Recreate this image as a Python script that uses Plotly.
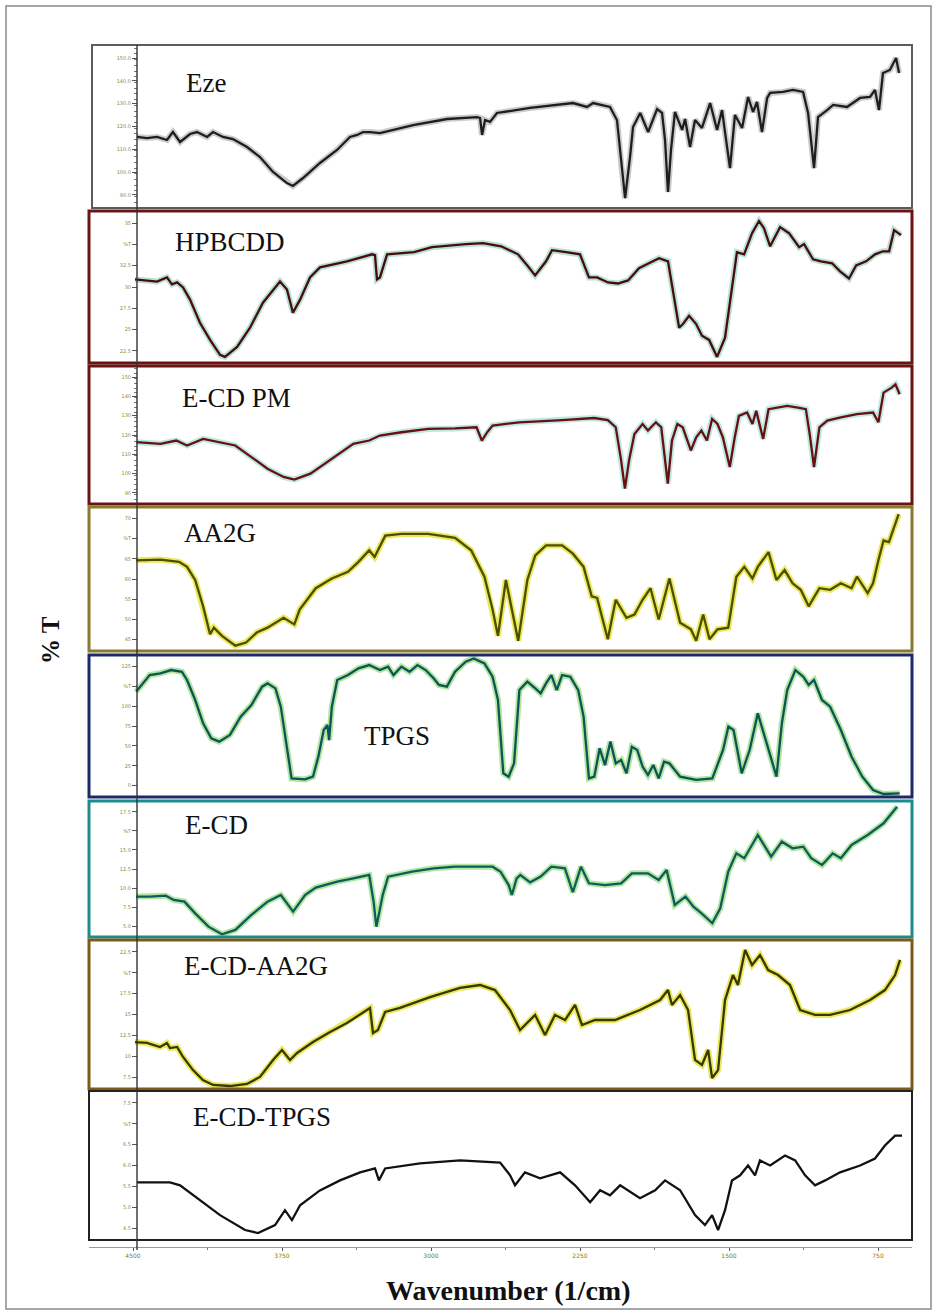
import plotly.graph_objects as go

W, H = 937, 1315

# ---------------- data (wavenumber in 1/cm, transmittance on a 0-100 panel scale) ----------------
eze_wn = [4480,4430,4379,4329,4299,4263,4213,4178,4127,4097,4047,3997,3926,3861,3795,3725,3695,3644,3559,3473,
          3408,3372,3342,3307,3257,3090,2919,2768,2753,2743,2728,2703,2668,2501,2285,2215,2184,2099,2064,2038,
          2023,1998,1983,1947,1907,1862,1837,1822,1807,1792,1772,1736,1721,1696,1671,1636,1595,1560,1535,1520,
          1495,1470,1434,1404,1379,1359,1334,1308,1293,1228,1178,1127,1102,1072,1052,1006,976,906,840,790,
          765,745,725,690,659,644]
eze_t = [43.6,42.9,43.6,41.7,46.6,40.5,45.4,46.6,43.6,46.6,43.6,42.3,37.4,31.3,22.1,15.3,13.5,18.4,27.6,35.6,
         43.6,44.8,46.6,46.6,46.0,50.9,54.6,55.8,55.2,44.8,54.0,52.8,58.3,61.4,64.4,62.0,64.4,62.0,54.0,21.5,
         6.1,31.3,49.7,58.3,46.6,60.7,58.3,41.7,9.8,35.6,58.9,47.9,54.6,37.4,54.0,49.1,64.4,47.9,60.1,46.6,
         24.5,57.1,49.1,68.1,58.9,65.0,46.6,67.5,70.6,71.2,72.4,71.2,58.3,24.5,55.8,60.1,63.2,62.0,67.5,68.1,
         72.4,60.1,82.8,84.7,92.0,82.8]

hp_wn = [4490,4430,4379,4329,4304,4278,4248,4213,4163,4112,4062,4037,3976,3911,3846,3760,3725,3695,3659,3609,
         3559,3423,3297,3282,3272,3257,3221,3085,2995,2824,2738,2647,2562,2512,2476,2421,2391,2320,2250,2205,
         2164,2109,2059,2008,1953,1903,1852,1807,1782,1751,1731,1701,1666,1636,1600,1560,1520,1485,1460,1424,
         1384,1349,1324,1293,1243,1198,1147,1122,1077,1037,981,941,896,860,810,765,725,694,669,634]
hp_t = [55.0,54.3,53.6,56.3,51.7,53.0,49.7,41.7,26.5,15.2,5.3,4.0,10.6,23.2,39.7,53.6,48.3,33.1,41.7,56.3,
        62.9,66.9,71.5,70.9,55.0,56.3,71.5,72.9,76.2,78.2,78.8,76.8,71.5,63.6,57.6,66.9,74.2,72.9,71.5,56.3,
        56.3,53.0,52.3,54.3,62.3,65.6,68.9,66.9,48.3,23.2,25.8,31.1,25.8,17.9,15.2,4.0,16.6,51.0,72.9,71.5,
        85.4,93.4,88.7,76.8,89.4,85.4,76.2,78.2,68.2,66.9,65.6,60.3,55.6,64.2,66.9,71.5,73.5,73.5,87.4,84.1]

pm_wn = [4484,4362,4282,4228,4147,4066,3985,3904,3823,3742,3688,3607,3499,3391,3311,3257,3149,3014,2879,2771,
         2744,2717,2690,2556,2340,2178,2110,2070,2043,2024,2003,1976,1935,1908,1868,1841,1808,1787,1760,1733,
         1692,1665,1639,1611,1585,1558,1531,1496,1471,1450,1409,1382,1363,1328,1301,1261,1207,1153,1113,1094,
         1072,1045,1005,937,856,775,748,722,681,662,641]
pm_t = [44.8,43.6,46.0,42.4,47.2,44.8,42.4,34.0,25.6,19.6,17.7,22.0,32.8,43.6,46.0,49.6,52.0,54.4,54.8,55.6,
        46.0,52.0,56.8,59.2,60.8,62.3,60.8,55.6,31.6,11.2,31.6,50.8,58.0,53.2,59.2,55.6,14.8,46.0,58.0,55.6,
        38.8,48.4,53.2,46.0,61.6,58.0,48.4,26.8,48.4,63.9,66.3,58.0,67.5,47.2,68.7,69.9,71.1,69.9,68.7,50.8,
        26.8,55.6,60.4,62.8,65.1,66.3,59.2,80.7,84.3,86.7,79.5]

aa_wn = [4484,4362,4268,4228,4187,4147,4112,4093,4052,3985,3931,3877,3823,3742,3688,3661,3580,3499,3418,3365,
         3311,3284,3230,3149,3014,2879,2798,2731,2690,2663,2623,2596,2561,2515,2475,2421,2340,2286,2232,2191,
         2164,2110,2070,2016,1976,1935,1895,1854,1800,1746,1692,1665,1630,1598,1558,1504,1463,1423,1382,1355,
         1301,1261,1220,1180,1139,1099,1045,991,937,883,856,802,775,748,722,695,668,646]
aa_t = [63.0,63.5,61.9,58.4,49.3,31.0,11.6,16.2,10.5,3.7,5.9,12.8,16.2,23.1,18.5,28.8,43.6,50.4,55.0,61.9,
        69.9,65.3,80.1,81.3,81.3,78.5,69.9,51.6,28.8,10.5,49.3,31.0,7.1,49.3,66.4,73.3,73.3,67.6,58.4,37.9,
        36.8,8.2,35.6,23.1,25.3,35.6,43.6,21.9,50.4,19.6,15.1,7.1,25.3,8.2,15.1,16.2,51.6,58.4,50.4,58.4,
        68.7,49.3,56.2,47.0,42.5,31.0,43.6,42.5,47.0,43.6,51.6,40.2,47.0,63.0,76.7,75.6,87.0,95.0]

tp_wn = [4484,4457,4416,4362,4308,4254,4228,4187,4147,4106,4066,4012,3958,3904,3850,3823,3783,3756,3729,3702,
         3634,3594,3567,3540,3521,3513,3499,3472,3418,3365,3311,3257,3216,3189,3149,3108,3068,3027,2987,2960,
         2920,2879,2825,2785,2731,2690,2663,2636,2609,2582,2555,2515,2475,2448,2421,2394,2367,2340,2299,2259,
         2232,2205,2178,2151,2124,2097,2070,2043,2016,1989,1962,1935,1908,1881,1854,1827,1800,1746,1665,1584,
         1530,1503,1477,1436,1396,1355,1315,1261,1234,1207,1166,1126,1099,1072,1032,991,937,883,829,775,
         722,641]
tp_t = [74.2,78.9,85.9,87.1,89.4,88.2,82.4,68.3,51.9,41.3,39.0,43.7,56.6,64.8,77.7,80.0,76.5,63.6,37.8,13.1,
        12.4,14.3,28.4,47.2,50.7,40.1,63.6,82.4,85.9,90.6,92.9,89.4,91.8,85.9,91.8,88.2,92.9,89.4,83.6,78.9,
        77.7,88.2,95.3,97.6,94.1,84.7,68.3,16.7,14.3,23.7,75.3,81.2,76.5,73.0,80.0,85.9,75.3,85.9,84.7,75.3,
        56.6,13.1,14.3,34.3,22.5,39.0,23.7,26.1,16.7,35.4,33.1,21.4,15.5,22.5,13.1,24.9,23.7,14.3,12.0,13.1,
        33.1,49.5,47.2,16.7,33.1,58.9,40.1,14.3,51.9,75.3,89.4,84.7,78.9,82.4,68.3,63.6,47.2,28.4,14.3,4.9,
        2.1,2.6]

ecd_wn = [4484,4416,4335,4295,4241,4187,4120,4052,3985,3904,3823,3756,3694,3634,3580,3472,3391,3311,3289,3275,
          3243,3216,3095,2987,2879,2690,2650,2609,2593,2569,2550,2501,2448,2394,2326,2286,2245,2205,2124,2043,
          1989,1908,1854,1814,1773,1719,1679,1638,1584,1544,1504,1463,1423,1355,1288,1234,1180,1126,1086,1032,
          978,937,883,802,722,654]
ecd_t = [29.7,29.7,30.4,27.2,26.0,17.4,7.6,2.0,5.2,16.2,26.0,30.9,18.7,30.9,36.3,40.7,43.1,45.6,26.0,7.6,
         30.9,44.4,48.0,50.5,51.7,51.7,48.0,38.2,30.9,43.1,45.6,40.2,44.4,51.7,50.5,32.9,51.7,39.5,38.2,39.5,
         46.8,46.8,41.9,49.3,23.6,29.7,22.3,17.4,10.1,21.1,48.0,61.5,57.9,75.0,59.1,70.1,65.2,66.4,57.9,52.9,
         61.5,57.9,67.7,75.0,83.6,95.8]

ea_wn = [4490,4430,4364,4329,4314,4278,4248,4198,4148,4097,4012,3926,3861,3795,3750,3710,3674,3594,3508,3423,
         3307,3292,3267,3231,3156,3005,2854,2753,2678,2602,2552,2476,2426,2376,2325,2275,2240,2174,2074,1948,
         1847,1807,1787,1746,1706,1671,1636,1605,1585,1555,1520,1480,1455,1419,1384,1344,1303,1253,1193,1142,
         1067,991,891,790,715,664,639]
ea_t = [31.5,30.9,28.2,30.9,27.5,28.2,21.5,12.7,6.0,2.7,2.0,3.4,8.1,19.5,26.2,19.5,24.2,31.5,38.2,44.3,
        54.4,37.6,39.6,51.7,54.4,61.7,67.8,69.8,66.4,53.0,39.6,49.7,36.2,49.7,46.3,56.4,42.9,46.3,46.3,53.0,
        59.7,66.4,56.4,63.1,53.0,19.5,16.1,26.2,7.4,12.7,59.7,76.5,69.8,93.3,83.2,89.9,79.8,76.5,69.8,53.0,
        49.7,49.7,53.0,59.7,66.4,76.5,86.6]

et_wn = [4480,4314,4263,4163,4062,3936,3871,3785,3735,3700,3659,3559,3458,3357,3282,3262,3231,3055,2854,2652,
         2602,2577,2527,2451,2350,2275,2199,2149,2099,2048,1948,1872,1822,1746,1671,1621,1585,1555,1520,1485,
         1444,1404,1369,1344,1293,1218,1167,1117,1067,1016,941,840,765,715,664,629]
et_t = [38.7,38.7,36.7,26.7,16.7,6.7,4.7,10.0,20.0,13.3,23.3,33.3,40.0,45.4,48.0,40.0,48.0,51.4,53.4,52.0,
        43.4,36.7,45.4,41.4,45.4,36.7,25.3,33.4,30.0,36.7,28.0,33.4,40.0,33.4,16.7,10.0,16.7,6.7,20.0,40.0,
        43.4,50.0,43.4,53.4,50.0,56.7,53.4,43.4,36.7,40.0,45.4,50.0,54.7,63.4,70.0,70.0]

names = ["Eze", "HPBCDD", "E-CD PM", "AA2G", "TPGS", "E-CD", "E-CD-AA2G", "E-CD-TPGS"]
x_ticks = [4500, 3750, 3000, 2250, 1500, 750]
x_ticktext = ["4500", "3750", "3000", "2250", "1500", "750"]
series = [(eze_wn, eze_t), (hp_wn, hp_t), (pm_wn, pm_t), (aa_wn, aa_t),
          (tp_wn, tp_t), (ecd_wn, ecd_t), (ea_wn, ea_t), (et_wn, et_t)]

# ---------------- styling / layout (pixels of the 937x1315 page) ----------------
styles = [
    dict(line="#1e1e1e", halo="rgba(140,140,140,0.45)", border="#5c5c5c", bw=2, top=45, bot=208, left=92, lx=206, ly=83),
    dict(line="#4a0b0b", halo="rgba(120,200,180,0.55)", border="#6b1414", bw=3, top=211, bot=363, left=89, lx=230, ly=242),
    dict(line="#6a0f0f", halo="rgba(120,210,200,0.50)", border="#6b1414", bw=3, top=366, bot=504, left=89, lx=236, ly=398),
    dict(line="#4e4e00", halo="rgba(225,225,40,0.75)", border="#8a7a2c", bw=3, top=507, bot=651, left=89, lx=220, ly=533),
    dict(line="#0a5656", halo="rgba(150,215,120,0.70)", border="#1c2a6a", bw=3, top=655, bot=797, left=89, lx=397, ly=736),
    dict(line="#0c5c5c", halo="rgba(150,220,120,0.70)", border="#1b8b8b", bw=3, top=801, bot=937, left=89, lx=216, ly=825),
    dict(line="#3a3800", halo="rgba(225,225,40,0.75)", border="#7a5c1a", bw=3, top=940, bot=1089, left=89, lx=256, ly=966),
    dict(line="#111111", halo=None, border="#222222", bw=2, top=1091, bot=1240, left=89, lx=262, ly=1117),
]
y_tickvals = [8, 22, 36, 50, 64, 78, 92]
y_ticktext = [["90.0", "100.0", "110.0", "120.0", "130.0", "140.0", "150.0"],
              ["22.5", "25", "27.5", "30", "32.5", "%T", "35"],
              ["90", "100", "110", "120", "130", "140", "150"],
              ["45", "50", "55", "60", "65", "%T", "70"],
              ["0", "25", "50", "75", "100", "%T", "125"],
              ["5.0", "7.5", "10.0", "12.5", "15.0", "%T", "17.5"],
              ["7.5", "10", "12.5", "15", "17.5", "%T", "22.5"],
              ["4.5", "5.0", "5.5", "6.0", "6.5", "%T", "7.5"]]

XL, XR = 89, 912
px_per_wn = 149.0 / 750.0
x_range = [4500 + (133 - XL) / px_per_wn, 750 - (XR - 878) / px_per_wn]

fig = go.Figure()
layout = dict(width=W, height=H, margin=dict(l=0, r=0, t=0, b=0),
              paper_bgcolor="white", plot_bgcolor="rgba(0,0,0,0)", showlegend=False)
shapes = []
annotations = []

for i, ((wn, t), st, nm) in enumerate(zip(series, styles, names)):
    k = "" if i == 0 else str(i + 1)
    xa, ya = "x" + k, "y" + k
    if st["halo"]:
        fig.add_trace(go.Scatter(x=wn, y=t, mode="lines", xaxis=xa, yaxis=ya, hoverinfo="skip",
                                 line=dict(color=st["halo"], width=6)))
    fig.add_trace(go.Scatter(x=wn, y=t, mode="lines", xaxis=xa, yaxis=ya, name=nm,
                             line=dict(color=st["line"], width=2.3)))
    last = (i == len(series) - 1)
    xdict = dict(domain=[XL / W, XR / W], range=x_range, showgrid=False, zeroline=False)
    if last:
        xdict.update(anchor="free", position=1 - 1247 / H, showline=True, linecolor="#9a9a9a", linewidth=1.2,
                     ticks="outside", ticklen=3, tickcolor="#555", tickvals=x_ticks, ticktext=x_ticktext,
                     tickfont=dict(size=6, color="#7d7d22", family="DejaVu Sans"),
                     minor=dict(tickvals=[4125, 3375, 2625, 1875, 1125], ticks="outside", ticklen=2, tickcolor="#777"))
    else:
        xdict.update(anchor=ya, showticklabels=False, ticks="", showline=False)
    layout["xaxis" + k] = xdict
    ydict = dict(domain=[1 - st["bot"] / H, 1 - st["top"] / H], range=[0, 100], anchor="free",
                 position=137 / W, showgrid=False, zeroline=False, showline=False,
                 ticks="outside", ticklen=5, tickcolor="#555", tickwidth=1,
                 tickvals=y_tickvals, ticktext=y_ticktext[i],
                 tickfont=dict(size=5, color="#8c8c30", family="DejaVu Sans"))
    if i in (0, 2):
        ydict["minor"] = dict(dtick=3.5, ticks="outside", ticklen=3, tickcolor="#777")
    layout["yaxis" + k] = ydict
    shapes.append(dict(type="rect", xref="paper", yref="paper",
                       x0=st["left"] / W, x1=XR / W, y0=1 - st["bot"] / H, y1=1 - st["top"] / H,
                       line=dict(color=st["border"], width=st["bw"]), fillcolor="rgba(0,0,0,0)", layer="above"))
    annotations.append(dict(text=nm, x=st["lx"] / W, y=1 - st["ly"] / H, xref="paper", yref="paper",
                            showarrow=False, xanchor="center", yanchor="middle",
                            font=dict(family="Liberation Serif", size=27, color="#111")))

# common vertical axis line
shapes.append(dict(type="line", xref="paper", yref="paper", x0=137 / W, x1=137 / W,
                   y0=1 - 1250 / H, y1=1 - 45 / H, line=dict(color="#333", width=1.4), layer="above"))
# outer frame
shapes.append(dict(type="rect", xref="paper", yref="paper", x0=6 / W, x1=931 / W, y0=1 - 1309 / H, y1=1 - 6 / H,
                   line=dict(color="#8a8a8a", width=1.5), fillcolor="rgba(0,0,0,0)"))

annotations.append(dict(text="<b>% T</b>", x=51 / W, y=1 - 640 / H, xref="paper", yref="paper", showarrow=False,
                        xanchor="center", yanchor="middle",
                        textangle=-90, font=dict(family="Liberation Serif", size=25, color="#111")))
annotations.append(dict(text="<b>Wavenumber (1/cm)</b>", x=508 / W, y=1 - 1290 / H, xref="paper", yref="paper",
                        xanchor="center", yanchor="middle",
                        showarrow=False, font=dict(family="Liberation Serif", size=28, color="#111")))

layout["shapes"] = shapes
layout["annotations"] = annotations
fig.update_layout(**layout)
fig.write_html("out.html", config={"displayModeBar": False},
               post_script="document.body.style.margin='0';document.body.style.padding='0';"
                           "document.body.style.overflow='hidden';")
